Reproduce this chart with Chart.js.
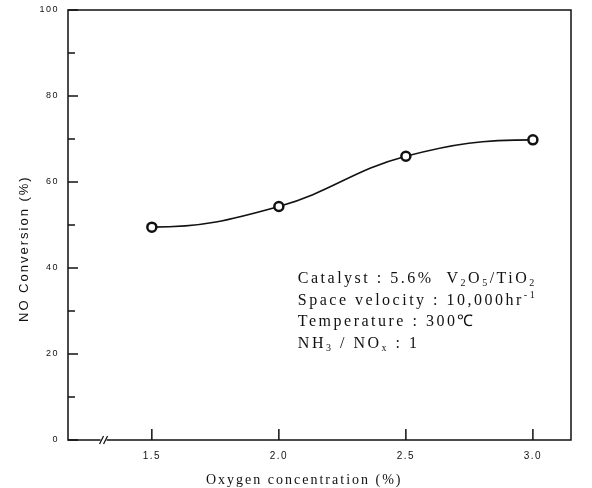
<!DOCTYPE html>
<html><head><meta charset="utf-8">
<script src="https://cdn.jsdelivr.net/npm/chart.js@4.4.1/dist/chart.umd.min.js"></script>
<style>html,body{margin:0;padding:0;background:#fff}#wrap{width:592px;height:488px}</style>
</head><body><div id="wrap"><canvas id="c" width="592" height="488"></canvas></div>
<script>
const oxygen = [1.5, 2.0, 2.5, 3.0];
const conversion = [49.5, 54.3, 66, 69.8];
const xTickValues = [1.5, 2.0, 2.5, 3.0];
const xTickLabels = ['1.5', '2.0', '2.5', '3.0'];
const yTickValues = [0, 10, 20, 30, 40, 50, 60, 70, 80, 90, 100];
const yTickLabels = ['0', '', '20', '', '40', '', '60', '', '80', '', '100'];
const xBreakValue = 1.31;
const xTitle = 'Oxygen concentration (%)';
const yTitle = 'NO Conversion (%)';
const noteLines = [
  [['Catalyst : 5.6%  V','n'],['2','sub'],['O','n'],['5','sub'],['/TiO','n'],['2','sub']],
  [['Space velocity : 10,000hr','n'],['-1','sup']],
  [['Temperature : 300\u2103','n']],
  [['NH','n'],['3','sub'],[' / NO','n'],['x','sub'],[' : 1','n']]
];

const ink = '#111';

const spacing = {
  id: 'spacing',
  beforeDraw(chart) { chart.ctx.letterSpacing = '1.5px'; }
};

const curveShape = {
  id: 'curveShape',
  beforeDatasetsDraw(chart) {
    const meta = chart.getDatasetMeta(0);
    meta.dataset.updateControlPoints(chart.chartArea, 'x');
    const pts = meta.data;
    pts[0].cp2y = pts[0].y;
    pts[pts.length - 1].cp1y = pts[pts.length - 1].y;
  }
};

const decor = {
  id: 'decor',
  afterDraw(chart) {
    const ctx = chart.ctx, a = chart.chartArea;
    const xs = chart.scales.x, ys = chart.scales.y;
    ctx.save();
    ctx.strokeStyle = ink; ctx.lineWidth = 1.5;
    ctx.strokeRect(a.left, a.top, a.right - a.left, a.bottom - a.top);
    yTickValues.forEach((v, i) => {
      const py = ys.getPixelForValue(v);
      const len = yTickLabels[i] ? 10 : 7;
      ctx.beginPath(); ctx.moveTo(a.left, py); ctx.lineTo(a.left + len, py); ctx.stroke();
    });
    xTickValues.forEach(v => {
      const px = xs.getPixelForValue(v);
      ctx.beginPath(); ctx.moveTo(px, a.bottom); ctx.lineTo(px, a.bottom - 11); ctx.stroke();
    });
    const bx = xs.getPixelForValue(xBreakValue);
    ctx.fillStyle = '#fff';
    ctx.fillRect(bx - 3, a.bottom - 3, 6, 6);
    ctx.lineWidth = 1.2;
    [-2, 2].forEach(d => {
      ctx.beginPath(); ctx.moveTo(bx + d - 2, a.bottom + 4); ctx.lineTo(bx + d + 2, a.bottom - 4); ctx.stroke();
    });
    ctx.fillStyle = ink;
    // axis titles
    ctx.textAlign = 'center'; ctx.textBaseline = 'middle';
    ctx.letterSpacing = '2px';
    ctx.font = '14px "Liberation Serif"';
    ctx.fillText(xTitle, xs.getPixelForValue(2.1), a.bottom + 40);
    ctx.save();
    ctx.translate(a.left - 44, ys.getPixelForValue(44.5));
    ctx.rotate(-Math.PI / 2);
    ctx.font = '13px "Liberation Sans"';
    ctx.fillText(yTitle, 0, 0);
    ctx.restore();
    // annotation
    ctx.textAlign = 'left'; ctx.textBaseline = 'alphabetic';
    ctx.letterSpacing = '2.5px';
    const x0 = xs.getPixelForValue(1.5) + 146;
    let y0 = ys.getPixelForValue(36.5);
    noteLines.forEach(line => {
      let x = x0;
      line.forEach(([t, k]) => {
        if (k === 'n') { ctx.font = '16px "Liberation Serif"'; ctx.fillText(t, x, y0); }
        else if (k === 'sub') { ctx.font = '10px "Liberation Serif"'; ctx.fillText(t, x, y0 + 3); }
        else { ctx.font = '10px "Liberation Serif"'; ctx.fillText(t, x, y0 - 7); }
        x += ctx.measureText(t).width;
      });
      y0 += 21.7;
    });
    ctx.restore();
  }
};

new Chart(document.getElementById('c'), {
  type: 'line',
  data: {
    datasets: [{
      data: oxygen.map((x, i) => ({x, y: conversion[i]})),
      borderColor: ink, borderWidth: 1.6,
      tension: 0.4,
      pointRadius: 4.5, pointBorderWidth: 2.5, pointBorderColor: ink, pointBackgroundColor: '#fff',
      fill: false
    }]
  },
  options: {
    responsive: false, animation: false,
    layout: { padding: { top: 10, right: 21, left: 0, bottom: 0 } },
    plugins: { legend: { display: false }, tooltip: { enabled: false } },
    scales: {
      x: {
        type: 'linear', min: 1.17, max: 3.15,
        afterBuildTicks: s => { s.ticks = xTickValues.map(v => ({value: v})); },
        afterFit: s => { s.height = 48; s.paddingLeft = 0; s.paddingRight = 0; },
        border: { display: false },
        grid: { display: false, drawTicks: false },
        ticks: { color: ink, padding: 10, font: { family: '"Liberation Sans"', size: 10 },
          callback: (v) => xTickLabels[xTickValues.indexOf(v)] ?? '' },
        title: { display: false }
      },
      y: {
        min: 0, max: 100,
        afterBuildTicks: s => { s.ticks = yTickValues.map(v => ({value: v})); },
        afterFit: s => { s.width = 68; s.paddingTop = 0; s.paddingBottom = 0; },
        border: { display: false },
        grid: { display: false, drawTicks: false },
        ticks: { color: ink, padding: 9, font: { family: '"Liberation Sans"', size: 9 },
          callback: (v) => yTickLabels[yTickValues.indexOf(v)] },
        title: { display: false }
      }
    }
  },
  plugins: [spacing, curveShape, decor]
});
</script></body></html>
